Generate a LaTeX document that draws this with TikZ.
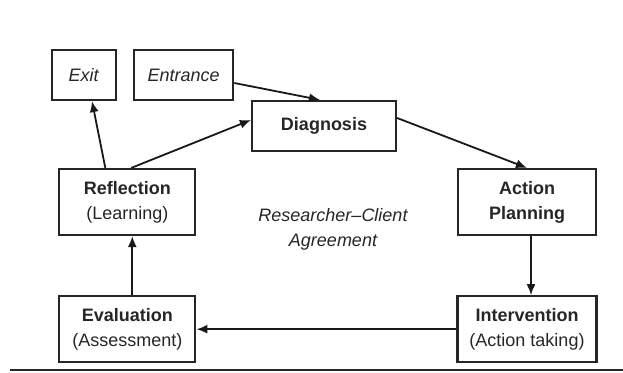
\documentclass[tikz,border=0pt]{standalone}
\usepackage{fontspec}
\setmainfont{Liberation Sans}
\usetikzlibrary{positioning}
\usetikzlibrary{arrows.meta}
\tikzstyle{block} = [rectangle, draw=black!85, line width=2.2pt, text=black!85, align=center, inner sep=0pt, minimum width=136pt, minimum height=66pt, font=\fontsize{18}{25}\selectfont]
\tikzstyle{tag} = [block, minimum height=50pt]
\tikzstyle{line} = [draw=black!90, line width=1.8pt, -{Latex[length=11pt,width=9pt]}]

\begin{document}
\begin{tikzpicture}[x=1pt, y=-1pt]
    \useasboundingbox (0,0) rectangle (623,372);
    \node[tag, minimum width=64pt] (EXIT) at (84,75) {\textit{Exit}};
    \node[tag, minimum width=99pt, right=16pt of EXIT] (ENT) {\textit{Entrance}};
    \node[tag, minimum width=144pt] (DIAG) at (324,126) {\textbf{Diagnosis}};
    \node[block, minimum width=138pt] (PLAN) at (527,202) {\textbf{Action}\\\textbf{Planning}};
    \node[block, minimum width=139pt, below=59pt of PLAN] (INTV) {\textbf{Intervention}\\(Action taking)};
    \node[block, left=260pt of INTV] (EVAL) {\textbf{Evaluation}\\(Assessment)};
    \node[block, above=59pt of EVAL] (REFL) {\textbf{Reflection}\\(Learning)};
    \node[text=black!85, align=center, font=\fontsize{18}{25}\selectfont\itshape] (AGREE) at (333,229) {Researcher--Client\\Agreement};
    \path[line] ([yshift=-8pt]ENT.east) -- ([xshift=-4pt]DIAG.north);
    \path[line] ([xshift=-22pt]REFL.north) -- ([xshift=8pt]EXIT.south);
    \path[line] ([xshift=4pt]REFL.north) -- ([yshift=6pt]DIAG.west);
    \path[line] ([yshift=8pt]DIAG.east) -- (PLAN.north);
    \path[line] ([xshift=4pt]PLAN.south) -- ([xshift=4pt]INTV.north);
    \path[line] (INTV.west) -- (EVAL.east);
    \path[line] ([xshift=5pt]EVAL.north) -- ([xshift=5pt]REFL.south);
    % rule under the figure
    \coordinate (RULEL) at (10,370);
    \coordinate (RULER) at (623,370);
    \draw[black!85, line width=2.2pt] (RULEL) -- (RULER);
\end{tikzpicture}
\end{document}
